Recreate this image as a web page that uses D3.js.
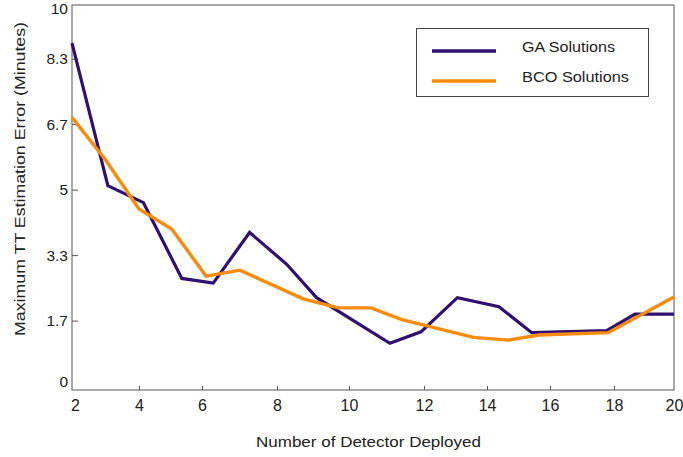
<!DOCTYPE html>
<html>
<head>
<meta charset="utf-8">
<script src="https://cdn.jsdelivr.net/npm/d3@7"></script>
<style>
  html, body { margin: 0; padding: 0; background: #fff; }
  svg { display: block; font-family: "Liberation Sans", Arial, sans-serif; }
</style>
</head>
<body>
<svg id="chart" width="683" height="457"></svg>
<script>
// ---- data ----
const xTickValues = [2, 4, 6, 8, 10, 12, 14, 16, 18, 20];
const yTickValues = [0, 5/3, 10/3, 5, 20/3, 25/3, 10];
const yTickLabels = ["0", "1.7", "3.3", "5", "6.7", "8.3", "10"];

const seriesNames = ["GA Solutions", "BCO Solutions"];
const gaX = [2.0, 3.07, 4.14, 5.36, 6.30, 7.27, 8.27, 9.10, 11.09, 11.92, 13.06, 14.38, 15.42, 17.77, 18.70, 20];
const gaY = [8.73, 5.10, 4.67, 2.74, 2.62, 3.91, 3.10, 2.25, 1.09, 1.38, 2.25, 2.02, 1.36, 1.41, 1.83, 1.83];
const bcoX = [2.0, 3.01, 4.0, 5.04, 6.11, 7.01, 8.73, 9.70, 10.59, 11.41, 13.57, 14.68, 15.64, 17.82, 20];
const bcoY = [6.84, 5.75, 4.51, 4.00, 2.80, 2.95, 2.22, 1.99, 1.99, 1.69, 1.24, 1.17, 1.30, 1.36, 2.27];

const xTitle = "Number of Detector Deployed";
const yTitle = "Maximum TT Estimation Error (Minutes)";

// ---- layout ----
const svg = d3.select("#chart");
const mLeft = 72, mRight = 674, mTop = 5, mBottom = 390;
const axisColor = "#555";
const textColor = "#222";
const colors = ["#2e1070", "#f68b0c"];

// x axis tick spacing in the original figure is irregular: piecewise-linear scale
const xFrac = [0, 0.1113, 0.2159, 0.3405, 0.4601, 0.5847, 0.6894, 0.7940, 0.9003, 1];
const x = d3.scaleLinear()
  .domain(xTickValues)
  .range(xFrac.map(f => mLeft + f * (mRight - mLeft)));

const y = d3.scaleLinear().domain([-0.1, 9.7]).range([mBottom, mTop]).clamp(true);

// frame
svg.append("rect")
  .attr("x", mLeft).attr("y", mTop)
  .attr("width", mRight - mLeft).attr("height", mBottom - mTop)
  .attr("fill", "none").attr("stroke", axisColor).attr("stroke-width", 1);

// y axis
const yAxis = svg.append("g")
  .attr("transform", `translate(${mLeft},0)`)
  .call(d3.axisLeft(y).tickValues(yTickValues)
    .tickFormat((d, i) => yTickLabels[i])
    .tickSize(-6).tickPadding(4));
yAxis.select(".domain").remove();
yAxis.selectAll("line").attr("stroke", axisColor);
yAxis.selectAll(".tick").filter((d, i) => i === 0 || i === yTickValues.length - 1)
  .select("line").remove();
yAxis.selectAll("text").attr("fill", textColor).style("font-size", "15.5px")
  .attr("font-family", null);
yAxis.selectAll(".tick").filter((d, i) => i === 0).select("text").attr("dy", "0.05em");
yAxis.selectAll(".tick").filter((d, i) => i === yTickValues.length - 1).select("text").attr("dy", "0.55em");

// x axis
const xAxis = svg.append("g")
  .attr("transform", `translate(0,${mBottom})`)
  .call(d3.axisBottom(x).tickValues(xTickValues).tickFormat(d3.format("d"))
    .tickSize(-4).tickPadding(10));
xAxis.select(".domain").remove();
xAxis.selectAll("line").attr("stroke", axisColor);
xAxis.selectAll(".tick").filter((d, i) => i === 0 || i === xTickValues.length - 1)
  .select("line").remove();
xAxis.selectAll("text").attr("fill", textColor).style("font-size", "16px")
  .attr("font-family", null);
xAxis.selectAll(".tick").filter((d, i) => i === 0).select("text").attr("dx", "3");

// titles
svg.append("text")
  .attr("x", (256 + 481) / 2).attr("y", 447)
  .attr("text-anchor", "middle")
  .attr("fill", textColor).style("font-size", "15px")
  .attr("textLength", 225).attr("lengthAdjust", "spacingAndGlyphs")
  .text(xTitle);

svg.append("text")
  .attr("transform", `translate(25,${(22 + 336) / 2}) rotate(-90)`)
  .attr("text-anchor", "middle")
  .attr("fill", textColor).style("font-size", "15px")
  .attr("textLength", 314).attr("lengthAdjust", "spacingAndGlyphs")
  .text(yTitle);

// lines
const line = d3.line().x(d => x(d[0])).y(d => y(d[1]));
const gaData = gaX.map((v, i) => [v, gaY[i]]);
const bcoData = bcoX.map((v, i) => [v, bcoY[i]]);

svg.append("path").datum(gaData)
  .attr("d", line).attr("fill", "none")
  .attr("stroke", colors[0]).attr("stroke-width", 3.2)
  .attr("stroke-linejoin", "miter");
svg.append("path").datum(bcoData)
  .attr("d", line).attr("fill", "none")
  .attr("stroke", colors[1]).attr("stroke-width", 3.4)
  .attr("stroke-linejoin", "miter");

// legend
const lg = svg.append("g");
lg.append("rect")
  .attr("x", 416.5).attr("y", 28.5).attr("width", 232).attr("height", 68)
  .attr("fill", "#fff").attr("stroke", "#444").attr("stroke-width", 1);
seriesNames.forEach((name, i) => {
  const yy = 51 + i * 30;
  lg.append("line")
    .attr("x1", 432).attr("x2", 496).attr("y1", yy).attr("y2", yy)
    .attr("stroke", colors[i]).attr("stroke-width", 3.4);
  lg.append("text")
    .attr("x", 522).attr("y", yy + 1)
    .attr("fill", textColor).style("font-size", "14.5px")
    .attr("textLength", i === 0 ? 93 : 107).attr("lengthAdjust", "spacingAndGlyphs")
    .text(name);
});
</script>
</body>
</html>
